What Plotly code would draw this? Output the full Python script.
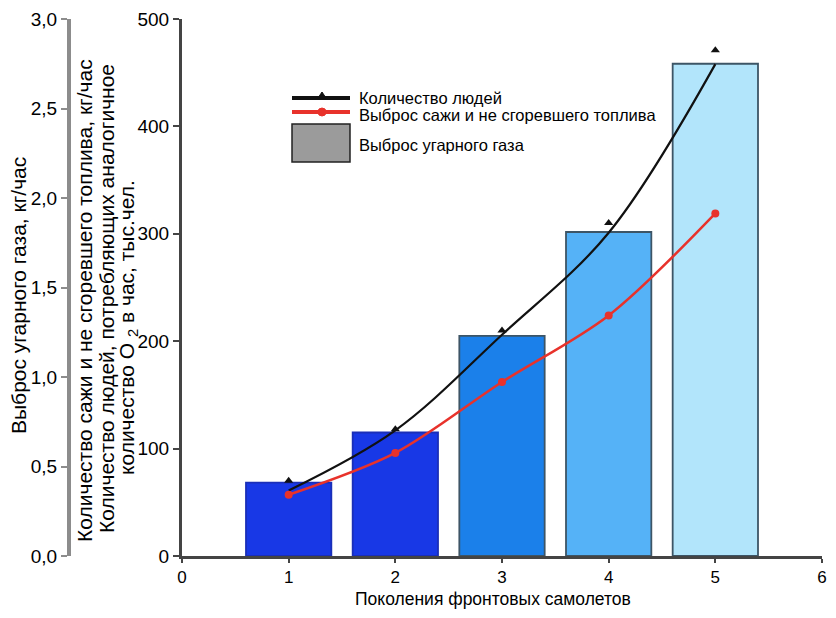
import plotly.graph_objects as go

# ---- data ----
generations = [1, 2, 3, 4, 5]
co_emission = [0.41, 0.69, 1.23, 1.81, 2.75]          # Выброс угарного газа, кг/час
people_points = [70, 118, 210, 310, 471]              # Количество людей (markers), тыс.чел.
people_trend = [61, 117, 206, 301, 458]               # Количество людей (drawn curve)
soot = [57, 96, 162, 224, 319]                        # Выброс сажи и не сгоревшего топлива

co_ticks = [0, 0.5, 1.0, 1.5, 2.0, 2.5, 3.0]
co_ticktext = ["0,0", "0,5", "1,0", "1,5", "2,0", "2,5", "3,0"]
main_ticks = [0, 100, 200, 300, 400, 500]
x_ticks = [0, 1, 2, 3, 4, 5, 6]

bar_colors = ["#1838e6", "#1838e6", "#1b80ea", "#55b2f7", "#b2e5fb"]
bar_edges = ["#1a2fb8", "#1a2fb8", "#3d5566", "#3d5566", "#3d5566"]

# the page places the figure 8px from the top-left corner (default body margin)
OFF = 8
W, H = 836 - 2 * OFF, 618 - 2 * OFF
PLOT_TOP, PLOT_BOTTOM, PLOT_RIGHT = 19, 556, 822
ML = 0
MT = PLOT_TOP - OFF
MR = (OFF + W) - PLOT_RIGHT
MB = (OFF + H) - PLOT_BOTTOM
PW, PH = W - ML - MR, H - MT - MB


def px(xp):
    return (xp - OFF - ML) / PW


def py(yp):
    return 1 - (yp - OFF - MT) / PH


FONT = "Liberation Sans, Arial, sans-serif"

fig = go.Figure()

fig.add_trace(go.Bar(
    x=generations, y=co_emission, yaxis="y", width=0.8,
    marker=dict(color=bar_colors, line=dict(color=bar_edges, width=1.8)),
    name="Выброс угарного газа", showlegend=False,
))

fig.add_trace(go.Scatter(
    x=generations, y=people_trend, yaxis="y2", mode="lines",
    line=dict(color="#111111", width=2.2, shape="spline", smoothing=1.0),
    showlegend=False, hoverinfo="skip",
))
fig.add_trace(go.Scatter(
    x=generations, y=people_points, yaxis="y2", mode="markers",
    marker=dict(symbol="triangle-up", size=8, color="#111111"),
    name="Количество людей", showlegend=False,
))
fig.add_trace(go.Scatter(
    x=generations, y=soot, yaxis="y2", mode="lines+markers",
    line=dict(color="#e8322b", width=2.5, shape="spline", smoothing=0.9),
    marker=dict(symbol="circle", size=8, color="#e8322b"),
    name="Выброс сажи и не сгоревшего топлива", showlegend=False,
))

x0 = px(182)
TICKFONT = dict(size=19)
fig.update_layout(
    width=W, height=H,
    margin=dict(l=ML, r=MR, t=MT, b=MB, autoexpand=False),
    paper_bgcolor="white", plot_bgcolor="white",
    font=dict(family=FONT, color="black"),
    showlegend=False,
    xaxis=dict(
        domain=[x0, 1], range=[0, 6], tickvals=x_ticks,
        showgrid=False, zeroline=False,
        showline=True, linecolor="#444444", linewidth=3,
        ticks="outside", ticklen=4, tickwidth=2, tickcolor="#444444",
        tickfont=dict(size=17), ticklabeloverflow="allow",
    ),
    yaxis=dict(
        range=[0, 3], tickvals=co_ticks, ticktext=co_ticktext,
        anchor="free", position=px(69), side="left",
        showgrid=False, zeroline=False,
        showline=True, linecolor="#8c8c8c", linewidth=4,
        ticks="outside", ticklen=6, tickwidth=2, tickcolor="#8c8c8c",
        tickfont=TICKFONT, automargin=False, ticklabeloverflow="allow",
    ),
    yaxis2=dict(
        range=[0, 500], tickvals=main_ticks,
        overlaying="y", anchor="x", side="left",
        showgrid=False, zeroline=False,
        showline=True, linecolor="#444444", linewidth=3,
        ticks="outside", ticklen=6, tickwidth=2, tickcolor="#444444",
        tickfont=TICKFONT, automargin=False, ticklabeloverflow="allow",
    ),
)

annotations = []
annotations.append(dict(x=px(18), y=py(296), xref="paper", yref="paper",
                        text="Выброс угарного газа, кг/час", textangle=-90,
                        showarrow=False, font=dict(size=21), xanchor="center", yanchor="middle"))
annotations.append(dict(x=px(84), y=py(301), xref="paper", yref="paper",
                        text="Количество сажи и не сгоревшего топлива, кг/час", textangle=-90,
                        showarrow=False, font=dict(size=21), xanchor="center", yanchor="middle"))
annotations.append(dict(x=px(106), y=py(299), xref="paper", yref="paper",
                        text="Количество людей, потребляющих аналогичное", textangle=-90,
                        showarrow=False, font=dict(size=21), xanchor="center", yanchor="middle"))
annotations.append(dict(x=px(128), y=py(328), xref="paper", yref="paper",
                        text="количество O <sub>2</sub> в час, тыс.чел.", textangle=-90,
                        showarrow=False, font=dict(size=21), xanchor="center", yanchor="middle"))
annotations.append(dict(x=px(493), y=py(599), xref="paper", yref="paper",
                        text="Поколения фронтовых самолетов", showarrow=False,
                        font=dict(size=17.5), xanchor="center", yanchor="middle"))

legend_items = [
    ("Количество людей", 98),
    ("Выброс сажи и не сгоревшего топлива", 115),
    ("Выброс угарного газа", 145),
]
for txt, yc in legend_items:
    annotations.append(dict(x=px(357), y=py(yc), xref="paper", yref="paper",
                            text=txt, showarrow=False, font=dict(size=16.5),
                            xanchor="left", yanchor="middle"))

shapes = [
    dict(type="line", xref="paper", yref="paper", x0=px(292), x1=px(350), y0=py(98), y1=py(98),
         line=dict(color="#111111", width=4)),
    dict(type="path", xref="paper", yref="paper",
         path=f"M {px(318)},{py(98)} L {px(326)},{py(98)} L {px(322)},{py(92)} Z",
         fillcolor="#111111", line=dict(color="#111111", width=1)),
    dict(type="line", xref="paper", yref="paper", x0=px(292), x1=px(350), y0=py(112), y1=py(112),
         line=dict(color="#e8322b", width=4)),
    dict(type="circle", xref="paper", yref="paper", x0=px(318), x1=px(326), y0=py(116), y1=py(108),
         fillcolor="#e8322b", line=dict(color="#e8322b", width=1)),
    dict(type="rect", xref="paper", yref="paper", x0=px(292), x1=px(350), y0=py(162), y1=py(124),
         fillcolor="#9b9b9b", line=dict(color="#222222", width=1.5)),
]
fig.update_layout(annotations=annotations, shapes=shapes)

fig.write_html("out.html")
